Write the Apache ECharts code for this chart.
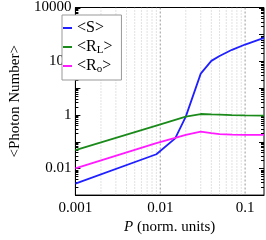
<!DOCTYPE html>
<html><head><meta charset="utf-8">
<script src="https://cdn.jsdelivr.net/npm/echarts@6/dist/echarts.min.js"></script>
<style>html,body{margin:0;padding:0;background:#fff}#c{width:266px;height:240px}</style>
</head><body><div id="c"></div>
<script>
var P  = [0.001, 0.009, 0.015, 0.02, 0.03, 0.04, 0.05, 0.07, 0.1, 0.167];
var S  = [0.0027, 0.0335, 0.131, 0.85, 34, 102, 155, 264, 415, 738];
var RL = [0.0477, 0.394, 0.643, 0.848, 1.06, 1.02, 1.0, 0.97, 0.95, 0.93];
var Ro = [0.01, 0.087, 0.136, 0.178, 0.233, 0.205, 0.19, 0.18, 0.178, 0.178];
var seriesNames = ['<S>', '<R_L>', '<R_o>'];
var xMin = 0.001, xMax = 0.167, yMin = 0.001, yMax = 10000;
var xGridMinor = [0.002,0.003,0.004,0.005,0.006,0.007,0.008,0.009,0.02,0.03,0.04,0.05,0.06,0.07,0.08,0.09];
var xGridMajor = [0.01, 0.1];
var yMinorTicks = [];
(function(){ for (var e=-3;e<4;e++){ for (var m=2;m<=9;m++){ yMinorTicks.push(m*Math.pow(10,e)); } } })();
var yMajorTicks = [0.001,0.01,0.1,1,10,100,1000,10000];

function zip(a,b){ return a.map(function(v,i){ return [v,b[i]]; }); }
function fmt(v){ var e=Math.round(Math.log10(v)); return String(Math.pow(10,e)); }

var chart = echarts.init(document.getElementById('c'), null, {renderer:'canvas'});
var font = 'Liberation Serif';
chart.setOption({
  animation:false,
  textStyle:{fontFamily:font},
  grid:{left:45, right:2, top:6, bottom:38, show:true, borderColor:'#000', borderWidth:1, containLabel:false},
  legend:{
    orient:'vertical', left:62, top:15,
    backgroundColor:'#fff', borderColor:'#999', borderWidth:1,
    padding:[4,9,5,1], itemGap:1, itemWidth:9, itemHeight:2, icon:'rect',
    data: seriesNames,
    formatter:function(n){
      if (n.indexOf('_')>0){ var p=n.split('_'); return '{a|'+p[0]+'}{s|'+p[1].replace('>','')+'}{a|>}'; }
      return '{a|'+n+'}{s|\u200a}';
    },
    textStyle:{fontFamily:font, color:'#000', rich:{
      a:{fontFamily:font, fontSize:16, lineHeight:17, color:'#000'},
      s:{fontFamily:font, fontSize:11, lineHeight:10, color:'#000', padding:[7,0,0,0]}
    }}
  },
  xAxis:{
    type:'log', logBase:10, min:xMin, max:xMax, interval:1,
    name:'{i|P} (norm. units)', nameLocation:'middle', nameGap:22,
    nameTextStyle:{fontFamily:font, fontSize:15, color:'#000', rich:{i:{fontFamily:font, fontSize:15, fontStyle:'italic', color:'#000'}}},
    axisLine:{lineStyle:{color:'#000'}},
    axisTick:{show:false},
    splitLine:{show:false},
    axisLabel:{fontFamily:font, fontSize:15, color:'#000', margin:5, formatter:fmt, showMaxLabel:false}
  },
  yAxis:{
    type:'log', logBase:10, min:yMin, max:yMax, interval:1,
    name:'<Photon Number>', nameLocation:'middle', nameGap:32,
    nameTextStyle:{fontFamily:font, fontSize:15, color:'#000'},
    axisLine:{lineStyle:{color:'#000'}},
    axisTick:{show:false},
    splitLine:{show:false},
    axisLabel:{fontFamily:font, fontSize:15, color:'#000', margin:4,
      formatter:function(v){ var e=Math.round(Math.log10(v)); return (e%2===0)?String(Math.pow(10,e)):''; }}
  },
  series:[
    {type:'custom', silent:true, z:1, clip:true,
     data: xGridMinor.map(function(v){return [v,0];}).concat(xGridMajor.map(function(v){return [v,1];})),
     renderItem:function(params, api){
       var cs=params.coordSys; var x=api.coord([api.value(0), yMin])[0]; var major=api.value(1)===1;
       return {type:'line', shape:{x1:x,y1:cs.y,x2:x,y2:cs.y+cs.height},
         style:{stroke: major?'#9a9a9a':'#c4c4c4', lineWidth:1, lineDash: major?[2,2]:[1,2]}};
     }},
    {type:'custom', silent:true, z:3, clip:false,
     data: yMinorTicks.map(function(v){return [v,0];}).concat(yMajorTicks.map(function(v){return [v,1];})),
     renderItem:function(params, api){
       var cs=params.coordSys; var v=api.value(0); if (v<yMin||v>yMax) return null;
       var y=Math.round(api.coord([xMin, v])[1])+0.5; var L=api.value(1)===1?5:3;
       return {type:'group', children:[
         {type:'line', shape:{x1:cs.x,y1:y,x2:cs.x+L,y2:y}, style:{stroke:'#000',lineWidth:1}},
         {type:'line', shape:{x1:cs.x+cs.width-L,y1:y,x2:cs.x+cs.width,y2:y}, style:{stroke:'#000',lineWidth:1}}
       ]};
     }},
    {name:seriesNames[0], type:'line', data:zip(P,S), showSymbol:false, symbol:'none', z:5, lineStyle:{color:'#1f1fff', width:1.8}, itemStyle:{color:'#1f1fff'}},
    {name:seriesNames[1], type:'line', data:zip(P,RL), showSymbol:false, symbol:'none', z:5, lineStyle:{color:'#1a8a1a', width:1.8}, itemStyle:{color:'#1a8a1a'}},
    {name:seriesNames[2], type:'line', data:zip(P,Ro), showSymbol:false, symbol:'none', z:5, lineStyle:{color:'#ff1aff', width:1.8}, itemStyle:{color:'#ff1aff'}}
  ]
});
</script></body></html>
